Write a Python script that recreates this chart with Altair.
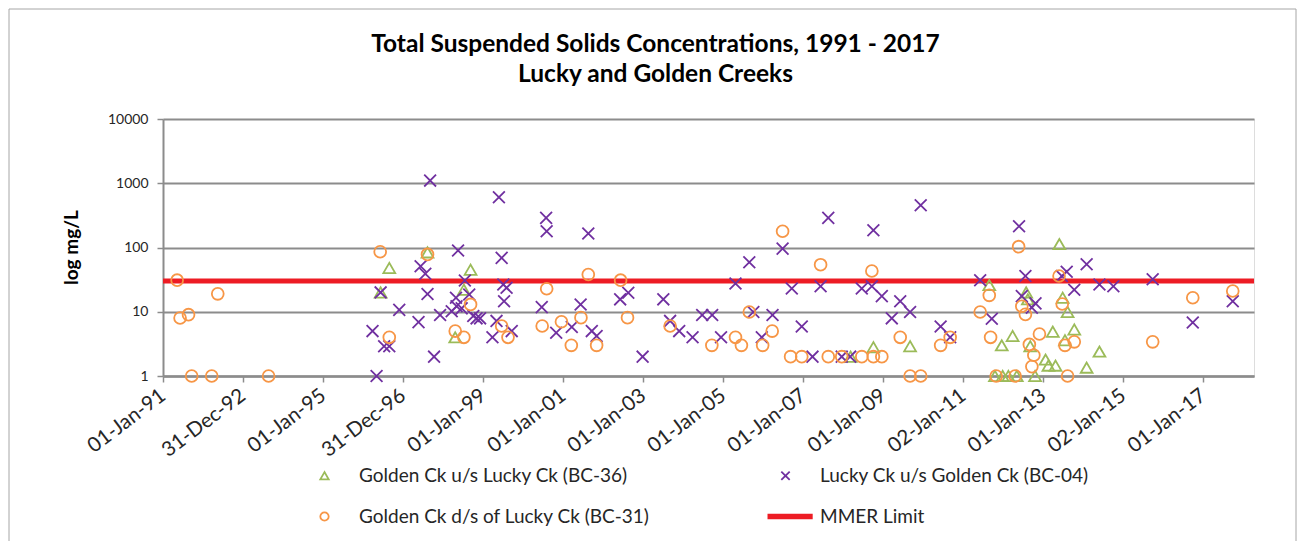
import altair as alt
import pandas as pd

# ---------------- data ----------------
BC36_NAME = "Golden Ck u/s Lucky Ck (BC-36)"
BC04_NAME = "Lucky Ck u/s Golden Ck (BC-04)"
BC31_NAME = "Golden Ck d/s of Lucky Ck (BC-31)"
MMER_NAME = "MMER Limit"
MMER_LIMIT = 30

bc36_dates = [
    "1996-06-10", "1996-08-28", "1997-08-12", "1998-04-22", "1998-07-10", "1998-09-09",
    "2008-03-10", "2008-10-04", "2009-09-04", "2011-08-28", "2011-10-19", "2011-12-20",
    "2011-12-28", "2012-02-18", "2012-03-28", "2012-05-05", "2012-07-30", "2012-08-14",
    "2012-09-05", "2012-10-19", "2013-01-23", "2013-02-18", "2013-03-30", "2013-04-24",
    "2013-05-29", "2013-06-28", "2013-07-19", "2013-08-12", "2013-10-12", "2014-02-02",
    "2014-05-30",
]
bc36_values = [
    20, 48, 84, 4.0, 22, 45,
    2.0, 2.8, 2.9, 26, 1, 3.0,
    1, 1, 4.2, 1, 20, 15.6,
    2.9, 1, 1.8, 1.45, 4.9, 1.45,
    113, 16.5, 3.6, 9.9, 5.3, 1.35,
    2.4,
]

bc04_dates = [
    "1996-03-28", "1996-05-04", "1996-06-10", "1996-07-12", "1996-08-28", "1996-11-27",
    "1997-05-22", "1997-06-10", "1997-07-23", "1997-08-12", "1997-09-05", "1997-10-11",
    "1997-12-05", "1998-03-21", "1998-04-29", "1998-05-04", "1998-05-18", "1998-06-20",
    "1998-07-19", "1998-08-28", "1998-10-04", "1998-11-03", "1998-12-05", "1999-03-28",
    "1999-05-04", "1999-05-26", "1999-06-20", "1999-07-05", "1999-07-12", "1999-08-04",
    "1999-09-20", "2000-06-20", "2000-07-30", "2000-08-04", "2000-10-30", "2001-03-21",
    "2001-06-10", "2001-08-19", "2001-09-20", "2001-11-03", "2002-06-06", "2002-08-19",
    "2002-12-28", "2003-07-05", "2003-09-05", "2003-11-27", "2004-03-28", "2004-06-24",
    "2004-09-23", "2004-12-13", "2005-04-24", "2005-08-28", "2005-10-04", "2005-12-20",
    "2006-03-28", "2006-06-28", "2006-09-20", "2006-12-20", "2007-03-28", "2007-06-10",
    "2007-08-19", "2007-12-20", "2008-03-06", "2008-06-20", "2008-09-20", "2008-10-04",
    "2008-12-20", "2009-03-21", "2009-06-06", "2009-09-04", "2009-12-10", "2010-06-10",
    "2010-09-05", "2011-06-06", "2011-09-20", "2012-05-26", "2012-06-20", "2012-07-23",
    "2012-09-20", "2012-10-23", "2013-06-20", "2013-08-04", "2013-10-12", "2014-02-02",
    "2014-05-30", "2014-10-04", "2015-09-28", "2016-09-28", "2017-09-28",
]
bc04_values = [
    5, 1, 20, 2.9, 2.9, 10.7,
    6.9, 51, 39, 18.9, 1100, 2.0,
    8.9, 10.2, 16.5, 12.2, 90, 11.3,
    30.7, 18.6, 8.6, 7.9, 7.9, 4.0,
    7.2, 605, 69, 26.6, 14.6, 23.6,
    5.0, 11.8, 289, 179, 4.7, 5.8,
    13, 165, 5.0, 4.2, 15.6, 19.8,
    2.0, 15.6, 7.2, 5.0, 4.0, 8.9,
    8.9, 4.0, 27.5, 59, 9.9, 4.0,
    8.9, 96, 23, 5.9, 2.0, 25,
    289, 2.0, 2.0, 23, 25, 186,
    17.5, 7.9, 14.6, 9.9, 454, 5.9,
    4.0, 31, 7.8, 214, 17.5, 36,
    11.6, 13.5, 36, 42, 22, 55,
    26.6, 25, 32, 6.8, 14.6,
]

bc31_dates = [
    "1991-05-10", "1991-06-06", "1991-08-22", "1991-09-20", "1992-03-21", "1992-05-15",
    "1993-08-22", "1996-06-06", "1996-08-28", "1997-08-12", "1998-04-22", "1998-07-10",
    "1998-09-09", "1999-06-20", "1999-08-17", "2000-06-24", "2000-08-04", "2000-12-17",
    "2001-03-17", "2001-06-13", "2001-08-19", "2001-11-03", "2002-06-10", "2002-08-12",
    "2003-09-05", "2004-09-20", "2005-04-24", "2005-06-17", "2005-08-28", "2005-12-28",
    "2006-03-25", "2006-06-28", "2006-09-09", "2006-12-20", "2007-06-10", "2007-08-19",
    "2007-12-20", "2008-06-20", "2008-09-20", "2008-10-04", "2008-12-20", "2009-06-06",
    "2009-09-04", "2009-12-10", "2010-06-10", "2010-09-05", "2011-06-06", "2011-08-28",
    "2011-09-09", "2011-10-30", "2012-04-20", "2012-05-22", "2012-06-20", "2012-07-23",
    "2012-08-28", "2012-09-20", "2012-10-08", "2012-11-28", "2013-05-26", "2013-06-24",
    "2013-07-19", "2013-08-12", "2013-10-12", "2015-09-28", "2016-09-28", "2017-09-28",
]
bc31_values = [
    31, 8.0, 9.0, 1, 1, 19,
    1, 86, 4.0, 78, 5.0, 4.0,
    13, 6.0, 4.0, 6.0, 22.8, 7.0,
    3.0, 8.1, 38, 3.0, 31, 8.1,
    6.0, 3.0, 4.0, 3.0, 9.9, 3.0,
    5.0, 179, 2.0, 2.0, 54, 2.0,
    2.0, 2.0, 43, 2.0, 2.0, 4.0,
    1, 1, 3.0, 4.0, 9.9, 18,
    4.0, 1, 1, 103, 12.2, 9.1,
    3.1, 1.4, 2.1, 4.5, 36, 13.2,
    3.0, 1, 3.4, 3.4, 16.5, 21,
]

x_tick_dates = [
    "1991-01-01", "1992-12-31", "1995-01-01", "1996-12-31", "1999-01-01", "2001-01-01",
    "2003-01-01", "2005-01-01", "2007-01-01", "2009-01-01", "2011-01-02", "2013-01-01",
    "2015-01-02", "2017-01-01",
]
x_domain = ["1991-01-01", "2018-04-10"]
y_ticks = [1, 10, 100, 1000, 10000]

# legend order (Vega fills the legend grid column by column)
series_names = [BC36_NAME, BC31_NAME, BC04_NAME, MMER_NAME]
series_colors = ["#9BBB59", "#F79646", "#7030A0", "#ED1C24"]
X_PATH = "M-1,-1L1,1M-1,1L1,-1"
LINE_PATH = "M-4.3,-0.45L6.5,-0.45M-4.3,0L6.5,0M-4.3,0.45L6.5,0.45"
series_shapes = ["triangle-up", "circle", X_PATH, LINE_PATH]
series_widths = [1.8, 1.8, 1.2, 1.6]

# ---------------- table ----------------
frames = []
for name, ds, vs in [(BC36_NAME, bc36_dates, bc36_values),
                     (BC04_NAME, bc04_dates, bc04_values),
                     (BC31_NAME, bc31_dates, bc31_values)]:
    frames.append(pd.DataFrame({"date": ds, "value": vs, "series": name}))
df = pd.concat(frames, ignore_index=True)
df["order"] = range(len(df))


def dt(s):
    y, m, d = (int(p) for p in s.split("-"))
    return alt.DateTime(year=y, month=m, date=d, utc=True)


FONT = "Lato"
GRID = "#8C8C8C"
TXT = "#262626"

x_enc = alt.X(
    "date:T",
    scale=alt.Scale(type="utc", domain=[dt(s) for s in x_domain]),
    axis=alt.Axis(
        values=[dt(s) for s in x_tick_dates],
        labelExpr="utcFormat(datum.value, '%d-%b-%y')",
        labelAngle=323,
        labelAlign="right",
        labelBaseline="middle",
        labelFont=FONT,
        labelFontSize=20.5,
        labelColor=TXT,
        labelPadding=11,
        labelOverlap=False,
        labelFlush=False,
        title=None,
        grid=False,
        domainColor=GRID,
        domainWidth=2.5,
        tickColor=GRID,
        tickWidth=1.5,
        tickSize=6,
    ),
)

y_scale = alt.Scale(type="log", domain=[1, 10000])
y_axis = alt.Axis(
    values=y_ticks,
    format="d",
    title="log mg/L",
    titleFont=FONT,
    titleFontSize=19,
    titleFontWeight="bold",
    titleColor="#000000",
    titleAngle=270,
    titleX=-92,
    titleY=128,
    titleAlign="center",
    titleBaseline="middle",
    labelFont=FONT,
    labelFontSize=14,
    labelColor=TXT,
    labelPadding=9,
    grid=True,
    gridColor=GRID,
    gridWidth=2,
    domainColor=GRID,
    domainWidth=2,
    tickColor=GRID,
    tickWidth=1.5,
    tickSize=6,
)

frame_df = pd.DataFrame({"k": [0]})
frame = alt.Chart(frame_df).mark_rect(fill=None, stroke="#A6A6A6", strokeWidth=1).encode(
    x=alt.value(-154), x2=alt.value(1133), y=alt.value(-110), y2=alt.value(424)
)

limit_df = pd.DataFrame({"limit": [MMER_LIMIT]})
rule = alt.Chart(limit_df).mark_rule(color="#ED1C24", strokeWidth=5).encode(
    y=alt.Y("limit:Q", scale=y_scale, axis=y_axis)
)

points = alt.Chart(df).mark_point(filled=False, size=140, opacity=1).encode(
    x=x_enc,
    y=alt.Y("value:Q", scale=y_scale, axis=y_axis),
    color=alt.Color(
        "series:N",
        scale=alt.Scale(domain=series_names, range=series_colors),
        legend=alt.Legend(
            title=None,
            orient="none",
            legendX=152,
            legendY=347,
            columns=2,
            columnPadding=113,
            rowPadding=21,
            labelFont=FONT,
            labelFontSize=19,
            labelColor=TXT,
            labelOffset=25,
            labelLimit=500,
            symbolSize=70,
            padding=0,
        ),
    ),
    shape=alt.Shape("series:N", scale=alt.Scale(domain=series_names, range=series_shapes)),
    strokeWidth=alt.StrokeWidth("series:N", scale=alt.Scale(domain=series_names, range=series_widths)),
    order=alt.Order("order:Q"),
)

chart = alt.layer(frame, rule, points).properties(
    width=1091,
    height=257,
    autosize=alt.AutoSizeParams(type="none"),
    padding={"left": 155, "top": 111, "right": 44, "bottom": 165},
    title=alt.TitleParams(
        text=["Total Suspended Solids Concentrations, 1991 - 2017", "Lucky and Golden Creeks"],
        font=FONT,
        fontSize=24.5,
        fontWeight="bold",
        color="#000000",
        anchor="middle",
        dx=-53,
        offset=-79,
        lineHeight=30,
    ),
).configure_view(stroke=None).configure(background="white")

chart.save("out.html", embed_options={"renderer": "svg", "actions": False})
